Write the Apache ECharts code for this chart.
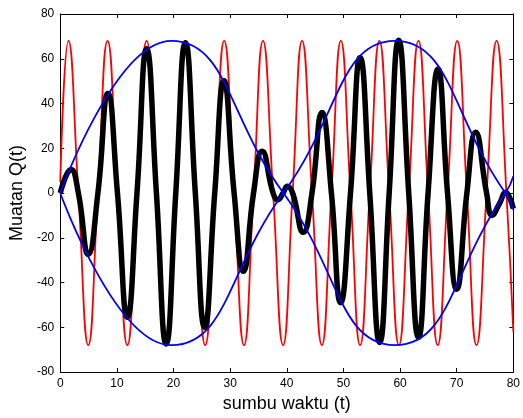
<!DOCTYPE html>
<html><head><meta charset="utf-8">
<script src="https://cdn.jsdelivr.net/npm/echarts@6/dist/echarts.min.js"></script>
<style>html,body{margin:0;padding:0;background:#fff}#c{width:523px;height:418px}</style>
</head><body><div id="c"></div>
<script>
// Axis ranges / tick labels
const xTickValues = [0, 10, 20, 30, 40, 50, 60, 70, 80];
const yTickValues = [-80, -60, -40, -20, 0, 20, 40, 60, 80];
const xName = 'sumbu waktu (t)';
const yName = 'Muatan Q(t)';

// Red carrier: [t, value] read at peaks, troughs and zero crossings
const redWave = [
  [0, 5], [1.45, 68], [3.2, 0], [4.95, -68], [6.65, 0], [8.35, 68], [10.1, 0], [11.85, -68],
  [13.55, 0], [15.25, 68], [16.98, 0], [18.7, -68], [20.4, 0], [22.1, 68], [23.85, 0], [25.6, -68],
  [27.28, 0], [28.95, 68], [30.7, 0], [32.45, -68], [34.13, 0], [35.8, 68], [37.58, 0], [39.35, -68],
  [41.03, 0], [42.7, 68], [44.45, 0], [46.2, -68], [47.88, 0], [49.55, 68], [51.25, 0], [52.95, -68],
  [54.65, 0], [56.35, 68], [58.08, 0], [59.8, -68], [61.53, 0], [63.25, 68], [64.95, 0], [66.65, -68],
  [68.38, 0], [70.1, 68], [71.8, 0], [73.5, -68], [75.28, 0], [77.05, 68], [78.78, 0], [80, -62]
];

// Blue envelopes
const blueUpper = [[0, 0], [19.6, 68], [39.4, 0], [59.1, -68], [78.6, 0], [80, 7.5]];
const blueLower = [[0, 0], [19.6, -68], [39.4, 0], [59.1, 68], [78.6, 0], [80, -7.5]];

// Black modulated charge Q(t)
const blackQ = [
  [0, 0], [1.9, 10.5], [3.2, 0], [4.95, -27.5], [6.65, 0], [8.4, 44.5], [10.1, 0], [11.85, -55.5],
  [13.55, 0], [15.25, 64.5], [16.98, 0], [18.7, -67.5], [20.4, 0], [22.1, 67.2], [23.85, 0], [25.5, -60],
  [27.28, 0], [28.9, 50.2], [30.7, 0], [32.35, -35], [34.13, 0], [35.65, 18.7], [37.58, 0], [38.4, -3],
  [39.35, 0], [40.1, 3], [41.03, 0], [42.9, -17.5], [44.45, 0], [46.2, 36], [47.88, 0], [49.5, -49],
  [51.25, 0], [52.95, 60.6], [54.65, 0], [56.4, -66.8], [58.08, 0], [59.75, 68.3], [61.53, 0], [63.25, -64.6],
  [64.95, 0], [66.7, 55.4], [68.38, 0], [70.0, -43], [71.8, 0], [73.35, 27.2], [75.28, 0], [76.25, -10],
  [77.6, -4.5], [78.65, 0.3], [79.3, -1.8], [80, -7]
];

const FONT = "'Liberation Sans', Arial, Helvetica, sans-serif";
const chart = echarts.init(document.getElementById('c'), null, {renderer: 'canvas'});

function axisBase(extra) {
  return Object.assign({
    type: 'value',
    axisLine: {show: true, onZero: false, lineStyle: {color: '#000', width: 1}},
    axisTick: {show: true, inside: true, length: 4, lineStyle: {color: '#000', width: 1}},
    splitLine: {show: false},
    axisLabel: {show: false}
  }, extra);
}
const xMin = xTickValues[0], xMax = xTickValues[xTickValues.length - 1];
const yMin = yTickValues[0], yMax = yTickValues[yTickValues.length - 1];
const xInt = xTickValues[1] - xTickValues[0], yInt = yTickValues[1] - yTickValues[0];

chart.setOption({
  animation: false,
  backgroundColor: '#fff',
  grid: {left: 60, right: 7, top: 14, bottom: 45, containLabel: false},
  xAxis: [
    axisBase({position: 'bottom', min: xMin, max: xMax, interval: xInt,
      name: xName, nameLocation: 'middle', nameGap: 23,
      nameTextStyle: {fontSize: 18, color: '#000', fontFamily: FONT},
      axisLabel: {show: true, fontSize: 12, color: '#000', margin: 6, fontFamily: FONT}}),
    axisBase({position: 'top', min: xMin, max: xMax, interval: xInt})
  ],
  yAxis: [
    axisBase({position: 'left', min: yMin, max: yMax, interval: yInt,
      name: yName, nameLocation: 'middle', nameGap: 31,
      nameTextStyle: {fontSize: 18, color: '#000', fontFamily: FONT},
      axisLabel: {show: true, fontSize: 12, color: '#000', margin: 6, fontFamily: FONT}}),
    axisBase({position: 'right', min: yMin, max: yMax, interval: yInt})
  ],
  series: [
    {type: 'line', data: redWave, smooth: 0.5, symbol: 'none', lineStyle: {color: '#ff0000', width: 1.8}, z: 2},
    {type: 'line', data: blackQ, smooth: 0.5, symbol: 'none', lineStyle: {color: '#000', width: 5.5}, z: 3},
    {type: 'line', data: blueUpper, smooth: 0.5, symbol: 'none', lineStyle: {color: '#0000ff', width: 1.8}, z: 4},
    {type: 'line', data: blueLower, smooth: 0.5, symbol: 'none', lineStyle: {color: '#0000ff', width: 1.8}, z: 4}
  ]
});
</script>
</body></html>
